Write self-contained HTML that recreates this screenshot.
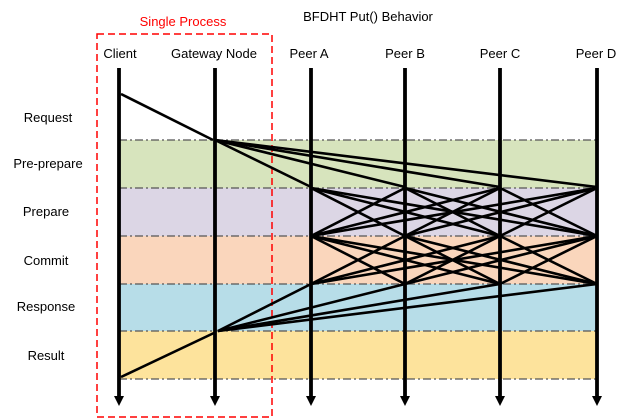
<!DOCTYPE html>
<html><head><meta charset="utf-8"><style>
html,body{margin:0;padding:0;background:#fff;width:626px;height:419px;overflow:hidden}
svg{display:block}
text{font-family:"Liberation Sans",sans-serif;font-size:13px;fill:#000}
</style></head><body>
<svg width="626" height="419" viewBox="0 0 626 419" xmlns="http://www.w3.org/2000/svg">
<rect x="119" y="140" width="478" height="48" fill="#d7e4bd"/>
<rect x="119" y="188" width="478" height="48" fill="#dcd6e5"/>
<rect x="119" y="236" width="478" height="48" fill="#fad6bc"/>
<rect x="119" y="284" width="478" height="47" fill="#b7dde8"/>
<rect x="119" y="331" width="478" height="48" fill="#fde39c"/>
<g stroke="#555" stroke-width="1.3" stroke-dasharray="8,3,2,3">
<line x1="119" y1="140" x2="597" y2="140"/>
<line x1="119" y1="188" x2="597" y2="188"/>
<line x1="119" y1="236" x2="597" y2="236"/>
<line x1="119" y1="284" x2="597" y2="284"/>
<line x1="119" y1="331" x2="597" y2="331"/>
<line x1="119" y1="379" x2="597" y2="379"/>
</g>
<rect x="97" y="34" width="175" height="383" fill="none" stroke="#f00" stroke-width="1.5" stroke-dasharray="7,4"/>
<g stroke="#000" stroke-width="2.6">
<line x1="121" y1="94" x2="213" y2="140"/>
<line x1="215" y1="140" x2="311" y2="187"/>
<line x1="215" y1="140" x2="405" y2="187"/>
<line x1="215" y1="140" x2="500" y2="187"/>
<line x1="215" y1="140" x2="597" y2="187"/>
<line x1="311" y1="188" x2="405" y2="236"/><line x1="311" y1="188" x2="500" y2="236"/><line x1="311" y1="188" x2="597" y2="236"/>
<line x1="405" y1="188" x2="311" y2="236"/><line x1="405" y1="188" x2="500" y2="236"/><line x1="405" y1="188" x2="597" y2="236"/>
<line x1="500" y1="188" x2="311" y2="236"/><line x1="500" y1="188" x2="405" y2="236"/><line x1="500" y1="188" x2="597" y2="236"/>
<line x1="597" y1="188" x2="311" y2="236"/><line x1="597" y1="188" x2="405" y2="236"/><line x1="597" y1="188" x2="500" y2="236"/>
<line x1="311" y1="236" x2="405" y2="284"/><line x1="311" y1="236" x2="500" y2="284"/><line x1="311" y1="236" x2="597" y2="284"/>
<line x1="405" y1="236" x2="311" y2="284"/><line x1="405" y1="236" x2="500" y2="284"/><line x1="405" y1="236" x2="597" y2="284"/>
<line x1="500" y1="236" x2="311" y2="284"/><line x1="500" y1="236" x2="405" y2="284"/><line x1="500" y1="236" x2="597" y2="284"/>
<line x1="597" y1="236" x2="311" y2="284"/><line x1="597" y1="236" x2="405" y2="284"/><line x1="597" y1="236" x2="500" y2="284"/>
<line x1="311" y1="284" x2="218" y2="331"/>
<line x1="405" y1="284" x2="218" y2="331"/>
<line x1="500" y1="284" x2="218" y2="331"/>
<line x1="597" y1="284" x2="218" y2="331"/>
<line x1="216" y1="332" x2="121" y2="377"/>
</g>
<g stroke="#000" stroke-width="3.8">
<line x1="119" y1="68" x2="119" y2="397"/>
<line x1="215" y1="68" x2="215" y2="397"/>
<line x1="311" y1="68" x2="311" y2="397"/>
<line x1="405" y1="68" x2="405" y2="397"/>
<line x1="500" y1="68" x2="500" y2="397"/>
<line x1="597" y1="68" x2="597" y2="397"/>
</g>
<g fill="#000">
<polygon points="114,396 124,396 119,406"/>
<polygon points="210,396 220,396 215,406"/>
<polygon points="306,396 316,396 311,406"/>
<polygon points="400,396 410,396 405,406"/>
<polygon points="495,396 505,396 500,406"/>
<polygon points="592,396 602,396 597,406"/>
</g>
<text x="368" y="21" text-anchor="middle">BFDHT Put() Behavior</text>
<text x="183" y="26" text-anchor="middle" style="fill:#f00">Single Process</text>
<text x="120" y="58" text-anchor="middle">Client</text>
<text x="214" y="58" text-anchor="middle">Gateway Node</text>
<text x="309" y="58" text-anchor="middle">Peer A</text>
<text x="405" y="58" text-anchor="middle">Peer B</text>
<text x="500" y="58" text-anchor="middle">Peer C</text>
<text x="596" y="58" text-anchor="middle">Peer D</text>
<text x="48" y="122" text-anchor="middle">Request</text>
<text x="48" y="168" text-anchor="middle">Pre-prepare</text>
<text x="46" y="216" text-anchor="middle">Prepare</text>
<text x="46" y="265" text-anchor="middle">Commit</text>
<text x="46" y="311" text-anchor="middle">Response</text>
<text x="46" y="360" text-anchor="middle">Result</text>
</svg>
</body></html>
